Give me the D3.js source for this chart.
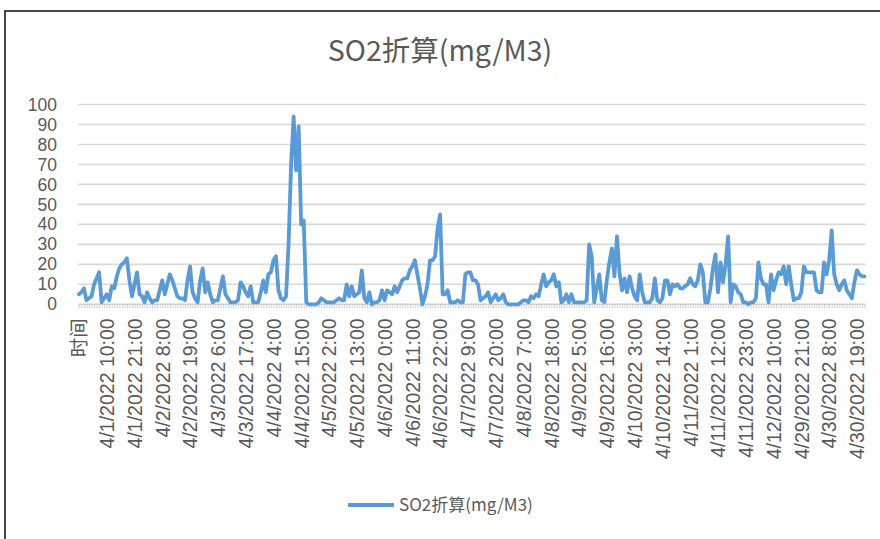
<!DOCTYPE html>
<html>
<head>
<meta charset="utf-8">
<script src="https://cdn.jsdelivr.net/npm/d3@7"></script>
<style>
  html, body { margin: 0; padding: 0; background: #fff; }
  svg { display: block; }
  text { font-family: "Noto Sans CJK SC", "Noto Sans", sans-serif; fill: #595959; }
  .num { font-family: "Liberation Sans", "Noto Sans CJK SC", sans-serif; }
</style>
</head>
<body>
<svg id="chart" width="880" height="539"></svg>
<script>
// Chart title and series name
const chartTitle = "SO2折算(mg/M3)";
const seriesName = "SO2折算(mg/M3)";

// Hourly readings (mg/M3); the first category is the header cell "时间"
const so2Values = [
  5, 6, 8, 2, 3, 4, 10, 13, 16, 1,
  3, 5, 2, 9, 8, 14, 18, 20, 21, 23,
  12, 4, 10, 16, 5, 4, 1, 6, 3, 1,
  2, 2, 7, 12, 5, 10, 15, 12, 8, 4,
  3, 3, 2, 12, 19, 6, 3, 1, 12, 18,
  6, 11, 5, 1, 2, 2, 8, 14, 5, 3,
  1, 1, 1, 2, 11, 9, 6, 4, 9, 1,
  1, 1, 6, 12, 6, 15, 16, 22, 24, 7,
  3, 2, 4, 30, 70, 94, 67, 89, 40, 42,
  1, 0, 0, 0, 0, 1, 3, 2, 1, 1,
  1, 1, 2, 3, 2, 2, 10, 4, 9, 4,
  5, 6, 17, 3, 1, 6, 0, 1, 1, 2,
  7, 2, 7, 6, 5, 9, 6, 9, 12, 13,
  13, 17, 19, 22, 15, 8, 0, 4, 10, 22,
  22, 24, 38, 45, 5, 5, 7, 1, 1, 1,
  2, 1, 1, 15, 16, 16, 12, 12, 10, 2,
  3, 4, 6, 1, 3, 5, 2, 3, 5, 1,
  0, 0, 0, 0, 0, 1, 2, 2, 1, 4,
  3, 5, 4, 10, 15, 9, 11, 12, 15, 9,
  11, 1, 2, 5, 1, 5, 1, 1, 1, 1,
  1, 2, 30, 24, 1, 8, 15, 2, 1, 12,
  21, 28, 14, 34, 16, 7, 13, 6, 14, 8,
  4, 2, 15, 6, 1, 1, 1, 3, 13, 2,
  1, 3, 12, 12, 5, 10, 9, 10, 8, 8,
  9, 10, 13, 10, 9, 12, 20, 16, 1, 1,
  8, 18, 25, 6, 21, 11, 20, 34, 1, 10,
  9, 6, 5, 1, 1, 0, 1, 1, 3, 21,
  13, 10, 10, 1, 15, 7, 12, 16, 15, 19,
  10, 19, 10, 2, 3, 3, 6, 19, 16, 16,
  16, 16, 7, 6, 6, 21, 15, 22, 37, 15,
  10, 7, 10, 12, 7, 5, 3, 11, 17, 15,
  14, 14
];

// Recording runs: [month, day, first hour, number of hourly readings]
const recordRuns = [
  [4, 1, 0, 280],
  [4, 29, 16, 31]
];

// Y axis ticks
const yTicks = [0, 10, 20, 30, 40, 50, 60, 70, 80, 90, 100];
// Every 11th category carries a label on the axis
const labelEvery = 11;

// Build category names: header cell followed by timestamps
const categories = ["时间"];
recordRuns.forEach(([m, d, h0, n]) => {
  for (let k = 0; k < n; k++) {
    const t = h0 + k;
    categories.push(`${m}/${d + Math.floor(t / 24)}/2022 ${t % 24}:00`);
  }
});

const svg = d3.select("#chart");
const margin = { left: 78.9, right: 15.5, top: 104.5, bottom: 234.7 };
const W = 880, H = 539;

const x = d3.scalePoint()
  .domain(categories)
  .range([margin.left, W - margin.right]);

const y = d3.scaleLinear()
  .domain([0, 100])
  .range([H - margin.bottom, margin.top]);

// Outer chart frame
svg.append("rect")
  .attr("x", 5).attr("y", 11)
  .attr("width", 900).attr("height", 600)
  .attr("fill", "none")
  .attr("stroke", "#1a1a1a")
  .attr("stroke-width", 1.6);

// Title
svg.append("text")
  .attr("x", 440).attr("y", 61)
  .attr("text-anchor", "middle")
  .attr("font-size", 28.5)
  .text(chartTitle);

// Horizontal gridlines
const plotL = margin.left - 1, plotR = W - margin.right + 1;
svg.append("g")
  .selectAll("line")
  .data(yTicks.filter(d => d > 0))
  .join("line")
  .attr("x1", plotL).attr("x2", plotR)
  .attr("y1", d => y(d)).attr("y2", d => y(d))
  .attr("stroke", "#d9d9d9")
  .attr("stroke-width", 1.6);

// Y axis labels
const yAxis = d3.axisLeft(y).tickValues(yTicks).tickSize(0).tickPadding(0);
const gy = svg.append("g")
  .attr("transform", `translate(${57},0)`)
  .call(yAxis);
gy.select(".domain").remove();
gy.selectAll("text")
  .attr("class", "num")
  .attr("font-size", 17.5)
  .attr("fill", "#595959")
  .style("font-family", null);

// Category axis: a minor tick at every category, labels every 11th
const xAxisTicks = d3.axisBottom(x).tickSize(4).tickFormat("");
const gx = svg.append("g")
  .attr("transform", `translate(0,${y(0)})`)
  .call(xAxisTicks);
gx.select(".domain")
  .attr("d", `M${plotL},0H${plotR}`)
  .attr("stroke", "#d0d0d0")
  .attr("stroke-width", 1.5);
gx.selectAll(".tick line").attr("stroke", "#cfcfcf").attr("stroke-width", 1);

const labelled = categories.filter((c, i) => i % labelEvery === 0);
const xAxisLabels = d3.axisBottom(x).tickValues(labelled).tickSize(0).tickPadding(0);
const gxl = svg.append("g")
  .attr("transform", `translate(0,${y(0)})`)
  .call(xAxisLabels);
gxl.select(".domain").remove();
gxl.selectAll("text")
  .attr("class", "num")
  .attr("font-size", 19.5)
  .attr("fill", "#595959")
  .attr("transform", "translate(0,14) rotate(-90)")
  .attr("text-anchor", "end")
  .attr("x", 0).attr("y", 0)
  .attr("dy", "0.35em")
  .style("font-family", null);

// Data line
const points = categories.map((c, i) => [c, so2Values[i]]);
const line = d3.line()
  .x(d => x(d[0]))
  .y(d => y(d[1]));

svg.append("path")
  .datum(points)
  .attr("d", line)
  .attr("fill", "none")
  .attr("stroke", "#5b9bd5")
  .attr("stroke-width", 3.8)
  .attr("stroke-linejoin", "round")
  .attr("stroke-linecap", "round");

// Legend
const legend = svg.append("g").attr("transform", "translate(348,505)");
legend.append("line")
  .attr("x1", 0).attr("x2", 46)
  .attr("y1", 0).attr("y2", 0)
  .attr("stroke", "#5b9bd5")
  .attr("stroke-width", 3.8);
legend.append("text")
  .attr("x", 51).attr("y", 0)
  .attr("dy", "0.35em")
  .attr("font-size", 17)
  .text(seriesName);
</script>
</body>
</html>
